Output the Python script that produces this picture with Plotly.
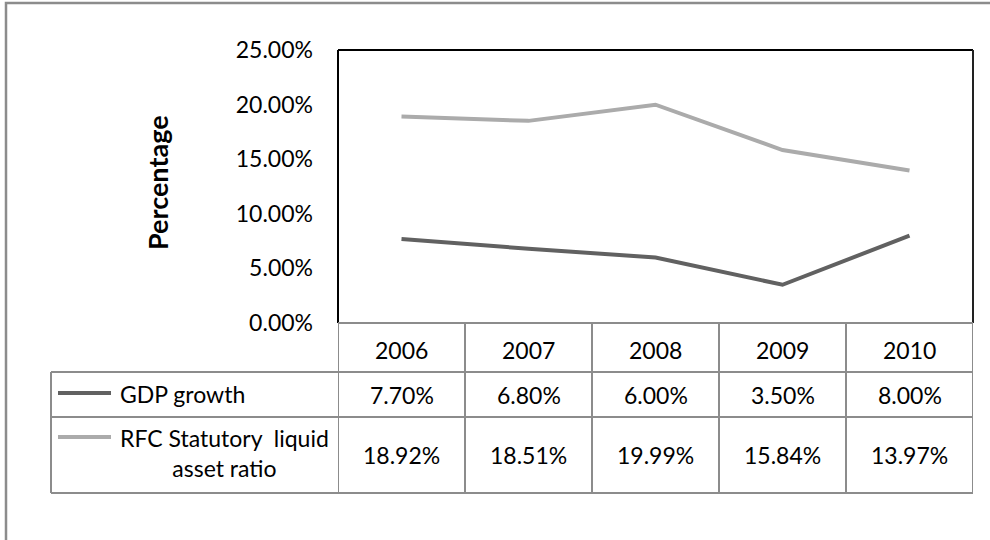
import plotly.graph_objects as go

years = ["2006", "2007", "2008", "2009", "2010"]
gdp_growth = [7.70, 6.80, 6.00, 3.50, 8.00]
rfc_ratio = [18.92, 18.51, 19.99, 15.84, 13.97]
series_names = ["GDP growth", "RFC Statutory  liquid<br>asset ratio"]
series_colors = ["#616161", "#ABABAB"]
y_ticks = [0, 5, 10, 15, 20, 25]
y_title = "Percentage"

W, H = 990, 540
FONT = "Lato"
FS = 23

def px(x):
    return x / W

def py(y):
    return 1 - y / H

# layout geometry (pixels)
PL, PR, PT, PB = 338, 973, 50, 323
ROW = [323, 372, 417, 493]
LEG_L = 51

fig = go.Figure()
for name, vals, col in zip(["GDP growth", "RFC Statutory liquid asset ratio"],
                           [gdp_growth, rfc_ratio], series_colors):
    fig.add_trace(go.Scatter(x=list(range(len(years))), y=vals, mode="lines",
                             line=dict(color=col, width=4), name=name,
                             showlegend=False))

shapes = []
annotations = []
grey = "#8C8C8C"

# outer border
shapes.append(dict(type="rect", xref="paper", yref="paper",
                   x0=px(6), x1=px(1010), y0=py(3), y1=py(600),
                   line=dict(color="#8C8C8C", width=2.5)))
# plot frame
shapes.append(dict(type="line", xref="paper", yref="paper", x0=px(PL), x1=px(PR),
                   y0=py(PT), y1=py(PT), line=dict(color="black", width=2)))
shapes.append(dict(type="line", xref="paper", yref="paper", x0=px(PR), x1=px(PR),
                   y0=py(PT), y1=py(PB), line=dict(color="#222222", width=2)))
shapes.append(dict(type="line", xref="paper", yref="paper", x0=px(PL), x1=px(PL),
                   y0=py(PT), y1=py(PB), line=dict(color="black", width=2)))

# table
n = len(years)
shapes.append(dict(type="line", xref="x", yref="paper", x0=-0.5, x1=n - 0.5,
                   y0=py(ROW[0]), y1=py(ROW[0]), line=dict(color=grey, width=2)))
for r in ROW[1:]:
    shapes.append(dict(type="line", xref="paper", yref="paper", x0=px(LEG_L), x1=px(PR),
                       y0=py(r), y1=py(r), line=dict(color=grey, width=2)))
for i in range(n + 1):
    shapes.append(dict(type="line", xref="x", yref="paper", x0=i - 0.5, x1=i - 0.5,
                       y0=py(ROW[0]), y1=py(ROW[3]), line=dict(color=grey, width=2)))
shapes.append(dict(type="line", xref="paper", yref="paper", x0=px(LEG_L), x1=px(LEG_L),
                   y0=py(ROW[1]), y1=py(ROW[3]), line=dict(color=grey, width=2)))

txt_font = dict(family=FONT, size=FS, color="black")
for i, yr in enumerate(years):
    annotations.append(dict(x=i, y=py((ROW[0] + ROW[1]) / 2 + 2), xref="x", yref="paper",
                            xanchor="center", yanchor="middle",
                            text=yr, showarrow=False, font=txt_font))
row_centers = [(ROW[1] + ROW[2]) / 2, (ROW[2] + ROW[3]) / 2]
for vals, yc in zip([gdp_growth, rfc_ratio], row_centers):
    for i, v in enumerate(vals):
        annotations.append(dict(x=i, y=py(yc), xref="x", yref="paper",
                                xanchor="center", yanchor="middle",
                                text=f"{v:.2f}%", showarrow=False, font=txt_font))

# legend keys
key_y = [393, 437]
for col, ky in zip(series_colors, key_y):
    shapes.append(dict(type="line", xref="paper", yref="paper", x0=px(58), x1=px(111),
                       y0=py(ky), y1=py(ky), line=dict(color=col, width=4)))
annotations.append(dict(x=px(118), y=py(394), xref="paper", yref="paper", xanchor="left",
                        yanchor="middle",
                        text=series_names[0], showarrow=False, font=txt_font))
annotations.append(dict(x=px(224), y=py(453), xref="paper", yref="paper", xanchor="center",
                        yanchor="middle",
                        text=series_names[1], showarrow=False, align="center", font=txt_font))

annotations.append(dict(x=px(157), y=py(183), xref="paper", yref="paper", text=f"<b>{y_title}</b>",
                        xanchor="center", yanchor="middle",
                        textangle=-90, showarrow=False,
                        font=dict(family=FONT, size=27, color="black")))

fig.update_layout(
    template="none",
    width=W, height=H, margin=dict(l=0, r=0, t=0, b=0, pad=0, autoexpand=False),
    paper_bgcolor="white", plot_bgcolor="white",
    shapes=shapes, annotations=annotations,
    font=dict(family=FONT, size=FS, color="black"),
    xaxis=dict(domain=[px(PL), px(PR)], range=[-0.5, n - 0.5], showticklabels=False,
               showgrid=False, zeroline=False, showline=False, automargin=False, ticks=""),
    yaxis=dict(domain=[py(PB), py(PT)], range=[0, 25], tickvals=y_ticks,
               ticktext=[f"{t:.2f}%" for t in y_ticks], showgrid=False, zeroline=False,
               showline=False, ticks="", ticklabelstandoff=24, automargin=False,
               tickfont=txt_font),
)

fig.write_html("out.html")
